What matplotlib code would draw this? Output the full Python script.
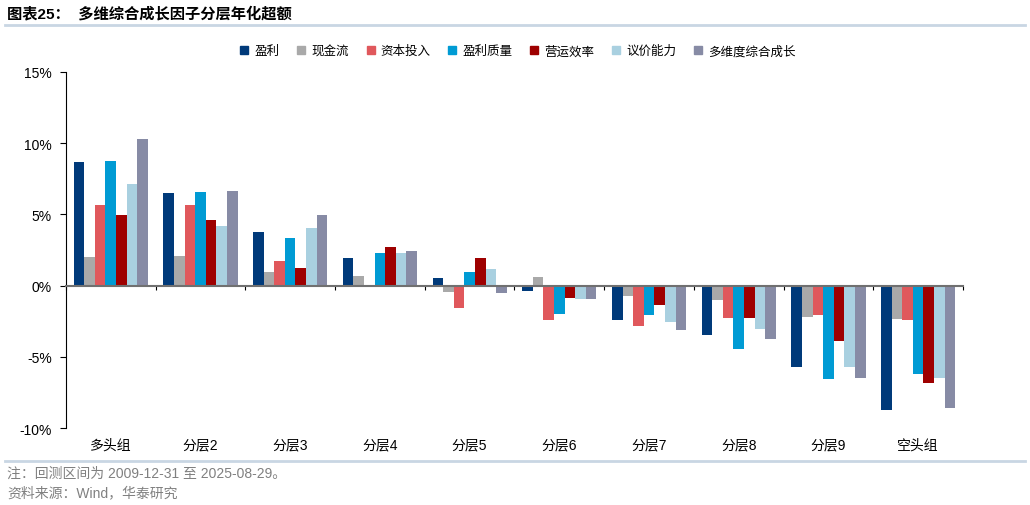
import matplotlib
matplotlib.use("Agg")
import matplotlib.pyplot as plt
from matplotlib.lines import Line2D
import numpy as np

plt.rcParams['font.family'] = ['Liberation Sans', 'Noto Sans CJK SC']
plt.rcParams['axes.unicode_minus'] = False

groups = ['多头组', '分层2', '分层3', '分层4', '分层5', '分层6', '分层7', '分层8', '分层9', '空头组']
series = ['盈利', '现金流', '资本投入', '盈利质量', '营运效率', '议价能力', '多维度综合成长']
colors = ['#003A7A', '#A9A9A9', '#E0585C', '#009BD4', '#9E0000', '#A9D0E0', '#878BA5']

profit = [8.67, 6.47, 3.75, 1.92, 0.52, -0.37, -2.44, -3.49, -5.74, -8.74]
cashflow = [1.99, 2.11, 0.94, 0.68, -0.42, 0.63, -0.70, -1.01, -2.18, -2.34]
capex = [5.65, 5.69, 1.73, 0.05, -1.57, -2.39, -2.86, -2.25, -2.06, -2.39]
quality = [8.72, 6.56, 3.33, 2.27, 0.94, -1.99, -2.04, -4.43, -6.59, -6.21]
efficiency = [4.92, 4.59, 1.22, 2.70, 1.92, -0.84, -1.34, -2.25, -3.89, -6.87]
bargaining = [7.15, 4.19, 4.03, 2.30, 1.17, -0.96, -2.53, -3.02, -5.69, -6.45]
composite = [10.31, 6.63, 4.92, 2.44, -0.54, -0.96, -3.14, -3.75, -6.45, -8.60]

data = [profit, cashflow, capex, quality, efficiency, bargaining, composite]

fig = plt.figure(figsize=(10.3, 5.06), dpi=100)
ax = fig.add_axes([0.064, 0.152, 0.871, 0.704])

x = np.arange(len(groups))
w = 0.118
for i, (name, vals, c) in enumerate(zip(series, data, colors)):
    ax.bar(x + (i - 3) * w, vals, width=w, color=c, label=name, zorder=2)

ax.set_xlim(-0.5, len(groups) - 0.5)
ax.set_ylim(-10, 15)
ax.set_yticks([-10, -5, 0, 5, 10, 15])
ax.set_yticklabels(['-10%', '-5%', '0%', '5%', '10%', '15%'], fontsize=10)
ax.tick_params(axis='y', direction='out', length=4, width=0.8, pad=6)

# zero line with group boundary ticks
ax.spines['bottom'].set_position('zero')
ax.spines['bottom'].set_color('#707070')
ax.spines['bottom'].set_linewidth(1.5)
ax.spines['bottom'].set_zorder(3)
ax.spines['top'].set_visible(False)
ax.spines['right'].set_visible(False)
ax.spines['left'].set_linewidth(0.8)
ax.set_xticks(np.arange(len(groups) + 1) - 0.5)
ax.set_xticklabels([])
ax.tick_params(axis='x', direction='out', length=3, width=0.8, color='black')

# category labels at the bottom
sec = ax.secondary_xaxis('bottom')
sec.set_xticks(x)
sec.set_xticklabels(groups, fontsize=10)
sec.tick_params(length=0, pad=7)
sec.spines['bottom'].set_visible(False)

handles = [Line2D([], [], marker='s', linestyle='none', markersize=6,
                  markerfacecolor=c, markeredgecolor=c) for c in colors]
fig.legend(handles, series, loc='center', bbox_to_anchor=(0.503, 0.897), ncol=7,
           frameon=False, fontsize=9, handlelength=0.6, handletextpad=0.5,
           columnspacing=1.45)

fig.text(0.007, 0.973, '图表25：  多维综合成长因子分层年化超额', fontsize=11,
         fontweight='bold', va='center', ha='left')
fig.add_artist(Line2D([0.005, 0.995], [0.949, 0.949], color='#C9D6E3', linewidth=2))
fig.add_artist(Line2D([0.005, 0.995], [0.087, 0.087], color='#C9D6E3', linewidth=2))
fig.text(0.007, 0.064, '注：回测区间为 2009-12-31 至 2025-08-29。', fontsize=10,
         color='#808080', va='center', ha='left')
fig.text(0.007, 0.025, '资料来源：Wind，华泰研究', fontsize=10,
         color='#808080', va='center', ha='left')

fig.savefig('out.png', dpi=100)
